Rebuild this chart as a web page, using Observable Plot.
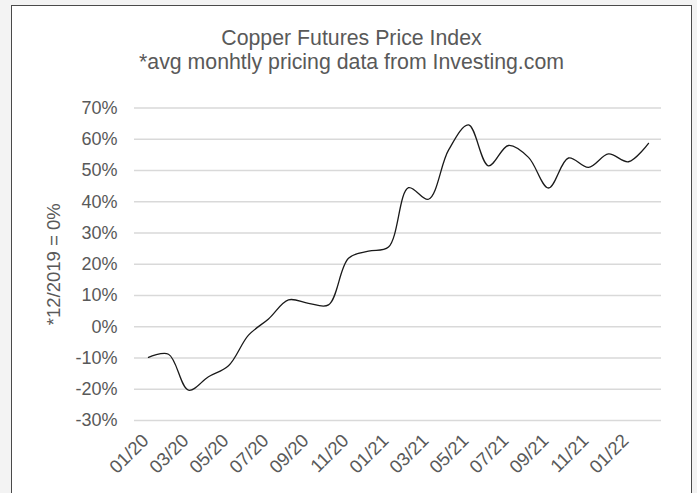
<!DOCTYPE html>
<html>
<head>
<meta charset="utf-8">
<script src="https://cdn.jsdelivr.net/npm/d3@7"></script>
<script src="https://cdn.jsdelivr.net/npm/@observablehq/plot@0.6"></script>
<style>
  html, body { margin: 0; padding: 0; background: #f3f3f3; }
  #page { position: relative; width: 697px; height: 493px; overflow: hidden; font-family: "Liberation Sans", Arial, sans-serif; }
  #frame { position: absolute; left: 11px; top: 5px; width: 681px; height: 500px; box-sizing: border-box; border: 1.5px solid #4a4a4a; background: #fff; }
  #titles { position: absolute; left: 11px; width: 681px; top: 27px; text-align: center; color: #595959; font-size: 21.3px; line-height: 23.5px; }
  #chart { position: absolute; left: 0; top: 0; }
</style>
</head>
<body>
<div id="page">
  <div id="frame"></div>
  <div id="titles">
    <div>Copper Futures Price Index</div>
    <div>*avg monhtly pricing data from Investing.com</div>
  </div>
  <div id="chart"></div>
</div>
<script>
const months = ["01/20","02/20","03/20","04/20","05/20","06/20","07/20","08/20","09/20","10/20","11/20","12/20",
                "01/21","02/21","03/21","04/21","05/21","06/21","07/21","08/21","09/21","10/21","11/21","12/21",
                "01/22","02/22"];
const values = [-9.8, -8.8, -20.3, -16.0, -12.5, -2.7, 2.5, 8.6, 7.5, 7.0, 21.9, 24.2,
                25.5, 44.5, 40.8, 56.5, 64.6, 51.5, 58.0, 54.2, 44.4, 54.0, 51.0, 55.3,
                52.8, 58.7];
const yTicks = [-30, -20, -10, 0, 10, 20, 30, 40, 50, 60, 70];
const xTicks = months.filter((d, i) => i % 2 === 0);
const yLabel = "*12/2019 = 0%";

const data = months.map((m, i) => ({month: m, value: values[i]}));

const chart = Plot.plot({
  width: 697,
  height: 493,
  marginLeft: 134,
  marginRight: 36,
  marginTop: 107.5,
  marginBottom: 73,
  style: {fontFamily: '"Liberation Sans", Arial, sans-serif', fontSize: "18px", color: "#595959", background: "transparent"},
  x: {type: "point", domain: months, padding: 0.5, label: null},
  y: {domain: [-30, 70], label: null},
  marks: [
    Plot.ruleY(yTicks, {stroke: "#d9d9d9", strokeWidth: 1.5}),
    Plot.axisY({ticks: yTicks, tickSize: 0, tickPadding: 17, tickFormat: d => d + "%", label: null, fontSize: 18}),
    Plot.axisX({ticks: xTicks, tickSize: 0, tickPadding: 17, tickRotate: -45, label: null, fontSize: 18.5, dx: -3}),
    Plot.text([yLabel], {frameAnchor: "left", textAnchor: "middle", dx: -80, rotate: -90, fill: "#595959", fontSize: 18.5}),
    Plot.line(data, {x: "month", y: "value", curve: "catmull-rom", stroke: "#1a1a1a", strokeWidth: 1.3})
  ]
});
document.getElementById("chart").appendChild(chart);
</script>
</body>
</html>
